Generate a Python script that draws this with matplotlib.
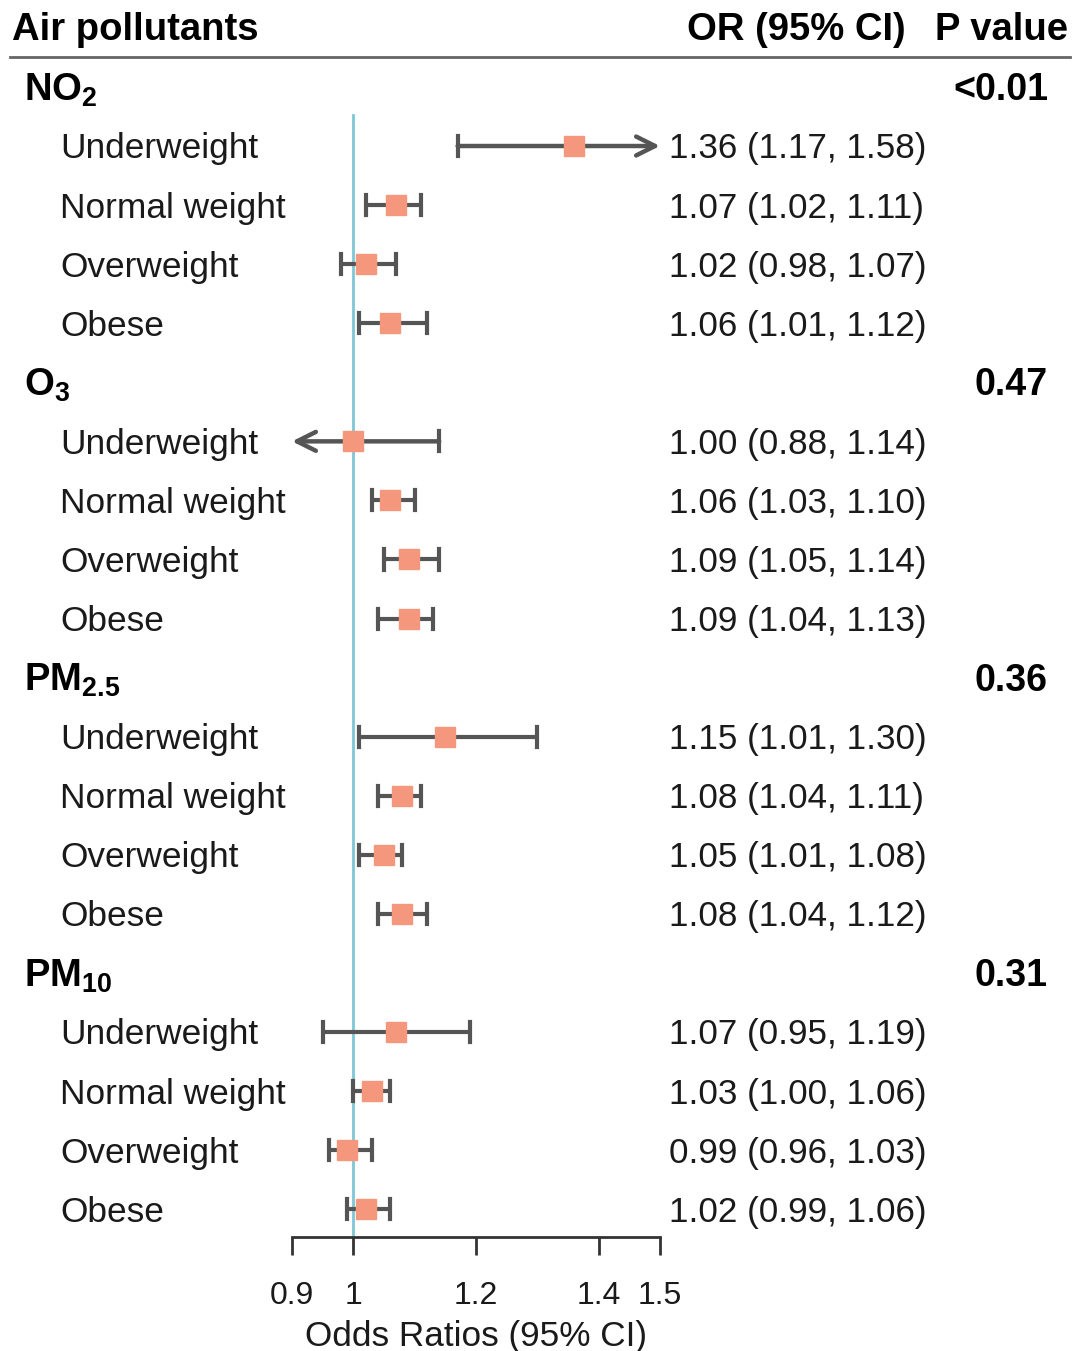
import numpy as np
import matplotlib
matplotlib.use("Agg")
import matplotlib.pyplot as plt
from matplotlib.transforms import blended_transform_factory

plt.rcParams['font.family'] = ['Liberation Sans', 'DejaVu Sans']
plt.rcParams['mathtext.fontset'] = 'custom'
plt.rcParams['mathtext.rm'] = 'Liberation Sans'
plt.rcParams['mathtext.bf'] = 'Liberation Sans:bold'

# data
pollutants = [r'$\mathbf{NO_2}$', r'$\mathbf{O_3}$', r'$\mathbf{PM_{2.5}}$', r'$\mathbf{PM_{10}}$']
p_values = ['<0.01', '0.47', '0.36', '0.31']
bmi_groups = ['Underweight', 'Normal weight', 'Overweight', 'Obese']

or_no2 = [1.36, 1.07, 1.02, 1.06]
lo_no2 = [1.17, 1.02, 0.98, 1.01]
hi_no2 = [1.58, 1.11, 1.07, 1.12]

or_o3 = [1.00, 1.06, 1.09, 1.09]
lo_o3 = [0.88, 1.03, 1.05, 1.04]
hi_o3 = [1.14, 1.10, 1.14, 1.13]

or_pm25 = [1.15, 1.08, 1.05, 1.08]
lo_pm25 = [1.01, 1.04, 1.01, 1.04]
hi_pm25 = [1.30, 1.11, 1.08, 1.12]

or_pm10 = [1.07, 1.03, 0.99, 1.02]
lo_pm10 = [0.95, 1.00, 0.96, 0.99]
hi_pm10 = [1.19, 1.06, 1.03, 1.06]

ors = [or_no2, or_o3, or_pm25, or_pm10]
los = [lo_no2, lo_o3, lo_pm25, lo_pm10]
his = [hi_no2, hi_o3, hi_pm25, hi_pm10]

xticks = [0.9, 1, 1.2, 1.4, 1.5]
xlo, xhi = 0.9, 1.5

W, H = 1080, 1351
fig = plt.figure(figsize=(W / 100, H / 100), dpi=100)

# axes placed in pixel terms of the reference
ax_left, ax_right = 292, 660
ax_top, ax_bot = 57.4, 1237
ax = fig.add_axes([ax_left / W, 1 - ax_bot / H, (ax_right - ax_left) / W, (ax_bot - ax_top) / H])
ax.set_xlim(xlo, xhi)
ax.set_ylim(19.47, -0.5)

line_col = '#555555'
sq_col = '#F4977C'
txt_col = '#1a1a1a'

tr = blended_transform_factory(fig.transFigure, ax.transData)

# reference line at OR = 1
ax.plot([1, 1], [0.48, 19.47], color='#7FC6D6', lw=2, zorder=1, clip_on=False)

cap = 0.17
dy = 0.05  # small nudge so text sits on the row like the original
row = 0
for g in range(len(pollutants)):
    ax.text(24 / W, row + dy, pollutants[g], transform=tr, fontsize=27.5, fontweight='bold',
            ha='left', va='center', color='black')
    ax.text(1048 / W, row + dy, p_values[g], transform=tr, fontsize=27, fontweight='bold',
            ha='right', va='center', color='black')
    row += 1
    for k in range(len(bmi_groups)):
        o, l, h = ors[g][k], los[g][k], his[g][k]
        ax.text(60 / W, row + dy, bmi_groups[k], transform=tr, fontsize=25.4,
                ha='left', va='center', color=txt_col)
        ax.text(669 / W, row + dy, f"{o:.2f} ({l:.2f}, {h:.2f})", transform=tr, fontsize=25.2,
                ha='left', va='center', color=txt_col)
        l_draw = max(l, xlo)
        h_draw = min(h, xhi)
        if h > xhi:
            ax.annotate('', xy=(h_draw, row), xytext=(l_draw, row),
                        arrowprops=dict(arrowstyle='->', lw=3.2, color=line_col,
                                        mutation_scale=34, shrinkA=0, shrinkB=0),
                        annotation_clip=False)
        elif l < xlo:
            ax.annotate('', xy=(l_draw, row), xytext=(h_draw, row),
                        arrowprops=dict(arrowstyle='->', lw=3.2, color=line_col,
                                        mutation_scale=34, shrinkA=0, shrinkB=0),
                        annotation_clip=False)
        else:
            ax.plot([l_draw, h_draw], [row, row], color=line_col, lw=3, zorder=2,
                    solid_capstyle='butt')
        if l >= xlo:
            ax.plot([l, l], [row - cap, row + cap], color=line_col, lw=3, zorder=2)
        if h <= xhi:
            ax.plot([h, h], [row - cap, row + cap], color=line_col, lw=3, zorder=2)
        ax.plot(o, row, marker='s', ms=14.5, color=sq_col, mec=sq_col, zorder=3,
                clip_on=False)
        row += 1

# header
fig.text(12 / W, 1 - 30 / H, 'Air pollutants', fontsize=27.5, fontweight='bold',
         ha='left', va='center', color='black')
fig.text(906 / W, 1 - 30 / H, 'OR (95% CI)', fontsize=27.5, fontweight='bold',
         ha='right', va='center', color='black')
fig.text(1068 / W, 1 - 30 / H, 'P value', fontsize=27.5, fontweight='bold',
         ha='right', va='center', color='black')
fig.add_artist(plt.Line2D([10 / W, 1070 / W], [1 - 57 / H, 1 - 57 / H],
                          color='#666666', lw=2))

# axis styling
for s in ['top', 'left', 'right']:
    ax.spines[s].set_visible(False)
ax.spines['bottom'].set_color('#333333')
ax.spines['bottom'].set_linewidth(2)
ax.set_yticks([])
ax.set_xticks(xticks)
ax.set_xticklabels(['0.9', '1', '1.2', '1.4', '1.5'])
ax.tick_params(axis='x', direction='out', length=13, width=2, color='#333333',
               labelsize=23, labelcolor=txt_col, pad=19)
ax.set_xlabel('Odds Ratios (95% CI)', fontsize=25.3, color=txt_col, labelpad=6)
ax.patch.set_alpha(0)

fig.savefig('out.png', dpi=100)
